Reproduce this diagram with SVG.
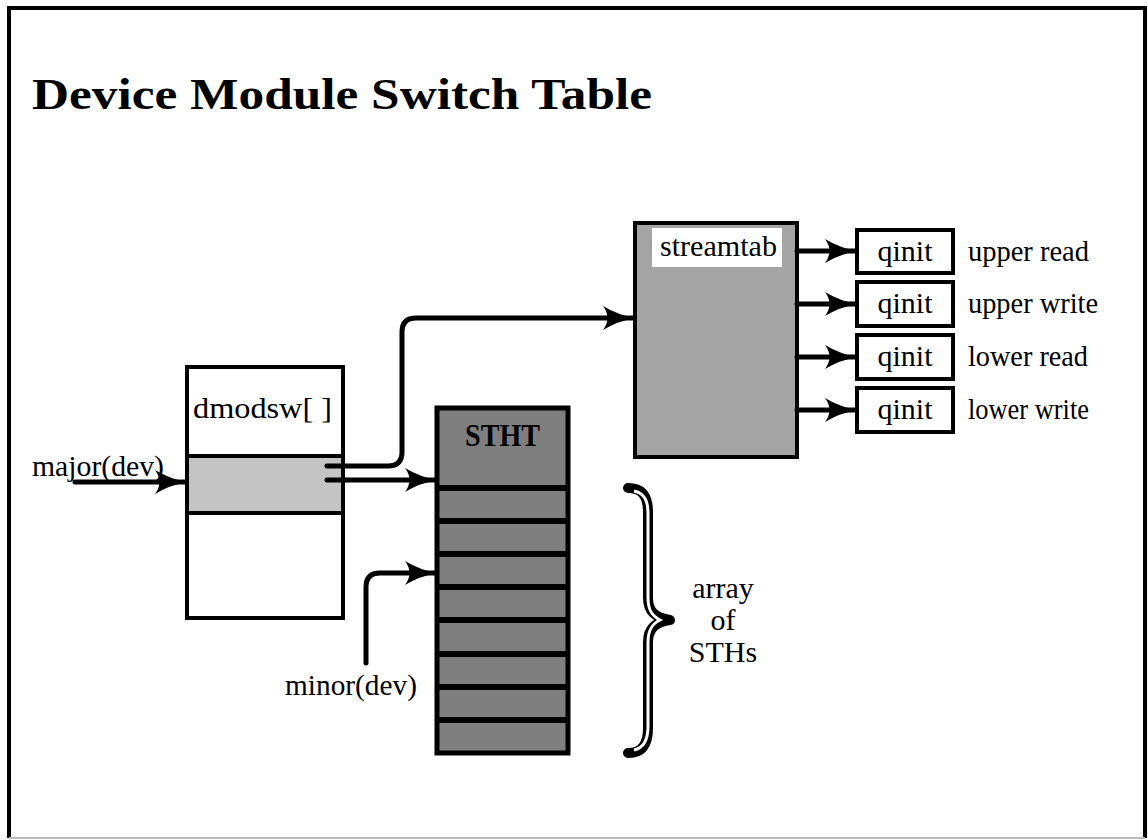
<svg xmlns="http://www.w3.org/2000/svg" width="1148" height="840" viewBox="0 0 1148 840">
<style>
  text { font-family: "Liberation Serif", "Times New Roman", serif; fill: #000; }
  .lbl { font-size: 30px; }
  .box { fill: #fff; stroke: #000; stroke-width: 4; }
  .conn { fill: none; stroke: #000; stroke-width: 5; stroke-linecap: round; }
</style>
<defs>
  <marker id="ah" markerUnits="userSpaceOnUse" markerWidth="34" markerHeight="26" refX="32" refY="13" orient="auto">
    <path d="M1,1 Q16,10 33,13 Q16,16 1,25 Q10,13 1,1 Z" fill="#000"/>
  </marker>
</defs>
<rect width="1148" height="840" fill="#fff"/>
<path d="M9,838 V8 H1145 V838" fill="none" stroke="#000" stroke-width="4"/>
<path d="M9,838 H1145" fill="none" stroke="#bbb" stroke-width="2"/>

<g id="title">
  <text x="32" y="109" font-size="44" font-weight="bold" textLength="620" lengthAdjust="spacingAndGlyphs">Device Module Switch Table</text>
</g>

<g id="dmodsw">
  <rect class="box" x="187" y="367" width="156" height="251"/>
  <rect x="187" y="456" width="156" height="57" fill="#c4c4c4" stroke="#000" stroke-width="4"/>
  <text class="lbl" x="193" y="418" font-size="32" textLength="139" lengthAdjust="spacingAndGlyphs">dmodsw[ ]</text>
</g>

<g id="sth-table">
  <rect x="437" y="408" width="131" height="345" fill="#7f7f7f" stroke="#000" stroke-width="5"/>
  <g stroke="#000" stroke-width="6">
    <line x1="437" y1="488" x2="568" y2="488"/>
    <line x1="437" y1="521" x2="568" y2="521"/>
    <line x1="437" y1="554" x2="568" y2="554"/>
    <line x1="437" y1="587" x2="568" y2="587"/>
    <line x1="437" y1="620" x2="568" y2="620"/>
    <line x1="437" y1="654" x2="568" y2="654"/>
    <line x1="437" y1="687" x2="568" y2="687"/>
    <line x1="437" y1="720" x2="568" y2="720"/>
  </g>
  <text x="465" y="446" font-size="31" font-weight="bold" textLength="75" lengthAdjust="spacingAndGlyphs" fill="#111">STHT</text>
</g>

<g id="streamtab">
  <rect x="635" y="223" width="162" height="234" fill="#a4a4a4" stroke="#000" stroke-width="4"/>
  <rect x="652" y="228" width="130" height="39" fill="#fff"/>
  <text class="lbl" x="660" y="256" textLength="117" lengthAdjust="spacingAndGlyphs">streamtab</text>
</g>

<g id="qinit-upper-read">
  <rect class="box" x="857" y="230" width="96" height="43"/>
  <text class="lbl" x="905" y="261" text-anchor="middle">qinit</text>
  <text class="lbl" x="968" y="261" textLength="121" lengthAdjust="spacingAndGlyphs">upper read</text>
</g>
<g id="qinit-upper-write">
  <rect class="box" x="857" y="282" width="96" height="44"/>
  <text class="lbl" x="905" y="313" text-anchor="middle">qinit</text>
  <text class="lbl" x="968" y="313" textLength="130" lengthAdjust="spacingAndGlyphs">upper write</text>
</g>
<g id="qinit-lower-read">
  <rect class="box" x="857" y="335" width="96" height="44"/>
  <text class="lbl" x="905" y="366" text-anchor="middle">qinit</text>
  <text class="lbl" x="968" y="366" textLength="120" lengthAdjust="spacingAndGlyphs">lower read</text>
</g>
<g id="qinit-lower-write">
  <rect class="box" x="857" y="388" width="96" height="44"/>
  <text class="lbl" x="905" y="419" text-anchor="middle">qinit</text>
  <text class="lbl" x="968" y="419" textLength="121" lengthAdjust="spacingAndGlyphs">lower write</text>
</g>

<g id="labels">
  <text class="lbl" x="32" y="476" textLength="132" lengthAdjust="spacingAndGlyphs">major(dev)</text>
  <text class="lbl" x="285" y="695" textLength="132" lengthAdjust="spacingAndGlyphs">minor(dev)</text>
</g>

<g id="brace">
  <path d="M628,488 C642,488 648,496 648,512 L648,598 C648,612 656,618 670,620 C656,622 648,628 648,642 L648,728 C648,744 642,753 628,753" fill="none" stroke="#000" stroke-width="10" stroke-linecap="round" stroke-linejoin="round"/>
  <path d="M634,491 C644,493 648,500 648,514 L648,598 C648,610 652,616 660,620 C652,624 648,630 648,642 L648,726 C648,740 644,748 634,750" fill="none" stroke="#fff" stroke-width="3"/>
  <text class="lbl" x="723" y="598" text-anchor="middle">array</text>
  <text class="lbl" x="723" y="630" text-anchor="middle">of</text>
  <text class="lbl" x="723" y="662" text-anchor="middle">STHs</text>
</g>

<g id="connectors">
  <path class="conn" d="M75,482 H186" marker-end="url(#ah)"/>
  <path class="conn" d="M327,466 H388 Q402,466 402,452 V332 Q402,318 416,318 H634" marker-end="url(#ah)"/>
  <path class="conn" d="M327,480 H436" marker-end="url(#ah)"/>
  <path class="conn" d="M366,663 V587 Q366,573 380,573 H436" marker-end="url(#ah)"/>
  <path class="conn" d="M797,251 H856" marker-end="url(#ah)"/>
  <path class="conn" d="M797,304 H856" marker-end="url(#ah)"/>
  <path class="conn" d="M797,357 H856" marker-end="url(#ah)"/>
  <path class="conn" d="M797,410 H856" marker-end="url(#ah)"/>
</g>
</svg>
